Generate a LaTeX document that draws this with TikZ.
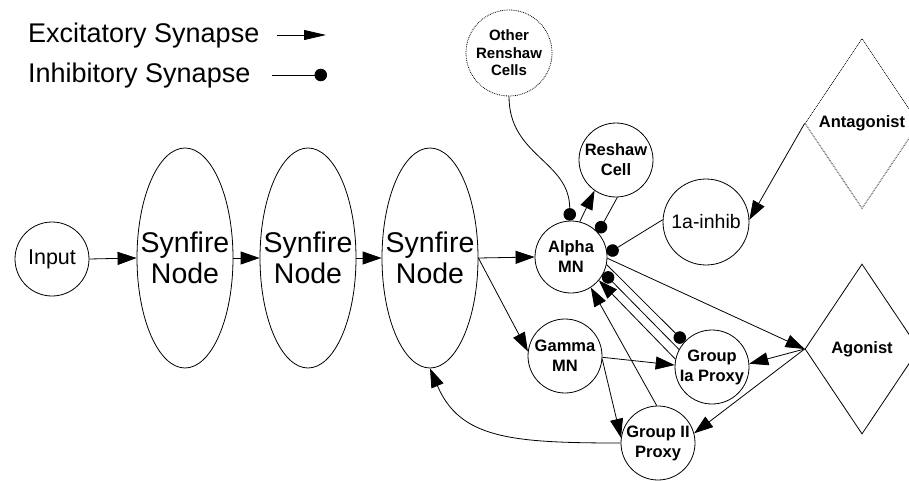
\documentclass[tikz,border=0pt]{standalone}
\usepackage{fontspec}
\setmainfont{Liberation Sans}
\usetikzlibrary{shapes.geometric,arrows.meta}
\tikzset{
  base/.style={draw,line width=0.8pt,inner sep=0pt,align=center},
  cell/.style={base,circle,minimum size=#1,font=\fontsize{16.5}{20}\selectfont\bfseries},
  syn/.style={base,ellipse,minimum width=96pt,minimum height=220pt,
    label={[align=center,font=\fontsize{28.5}{31}\selectfont]center:Synfire\\Node}},
  dia/.style={base,diamond,minimum width=114pt,minimum height=170pt,font=\fontsize{16.5}{20}\selectfont\bfseries},
  conn/.style={line width=0.8pt},
  exc/.style={conn,-{Triangle[length=19pt,width=13pt]}},
  inh/.style={conn,-{Circle[length=12.5pt]}},
  legtext/.style={anchor=base west,inner sep=0pt,font=\fontsize{27}{30}\selectfont},
}
\begin{document}
\begin{tikzpicture}[x=1pt,y=-1pt]
\useasboundingbox (0,0) rectangle (909,481);
% legend
\node[legtext] (lexc) at (28,43) {Excitatory Synapse};
\node[legtext] (linh) at (28,83) {Inhibitory Synapse};
\coordinate (le1) at (277,35);
\coordinate (le2) at (326,35);
\coordinate (li1) at (272,75);
\coordinate (li2) at (327,75);
\draw[conn,-{Triangle[length=22pt,width=10pt]}] (le1) -- (le2);
\draw[inh] (li1) -- (li2);
% nodes
\node[cell=74pt,font=\fontsize{21.5}{25}\selectfont] (in) at (52,259) {Input};
\node[syn] (s1) at (185,258) {};
\node[syn] (s2) at (308,258) {};
\node[syn] (s3) at (430,258) {};
\node[cell=72pt] (alpha) at (571,257) {Alpha\\MN};
\node[cell=74pt] (reshaw) at (616,160) {Reshaw\\Cell};
\node[cell=86pt,densely dotted,font=\fontsize{15}{17.5}\selectfont\bfseries] (other) at (509,53) {Other\\Renshaw\\Cells};
\node[cell=86pt,font=\fontsize{19.5}{23}\selectfont] (inhib) at (706,222) {1a-inhib};
\node[dia,densely dotted] (antag) at (862,123.5) {Antagonist};
\node[dia] (agon) at (862,349) {Agonist};
\node[cell=74pt] (gamma) at (565,356) {Gamma\\MN};
\node[cell=74pt,label={[align=center,font=\fontsize{16.5}{20}\selectfont\bfseries]center:Group\\Ia Proxy}] (ia) at (712,367) {};
\node[cell=74pt] (g2) at (658,443) {Group II\\Proxy};
% connectors
\draw[exc] (in.east) -- (s1.west);
\draw[exc] (s1.east) -- (s2.west);
\draw[exc] (s2.east) -- (s3.west);
\draw[exc] (s3.east) -- (alpha.west);
\draw[exc] (s3.east) -- (gamma.173);
\draw[exc] (g2.west) .. controls +(-110,0) and +(30,70) .. (s3.south);
\draw[inh] (other.south) .. controls +(0,60) and +(0,-60) .. (alpha.92);
\draw[exc] (alpha.76) -- (reshaw.235);
\draw[inh] (reshaw.272) -- (alpha.42);
\draw[inh] (inhib.177) -- (alpha.5);
\draw[exc] (antag.west) -- (inhib.3);
\draw[exc] (alpha.-2) -- (agon.west);
\draw[inh] (alpha.-12) -- (ia.138);
\draw[inh] (ia.152) -- (alpha.-26);
\draw[exc] (ia.168) -- (alpha.-40);
\draw[exc] (g2.92) -- (alpha.-57);
\draw[exc] (gamma.-2) -- (ia.177);
\draw[exc] (gamma.-5) -- (g2.172);
\draw[exc] (agon.west) -- (ia.5);
\draw[exc] (agon.west) -- (g2.15);
\end{tikzpicture}
\end{document}
